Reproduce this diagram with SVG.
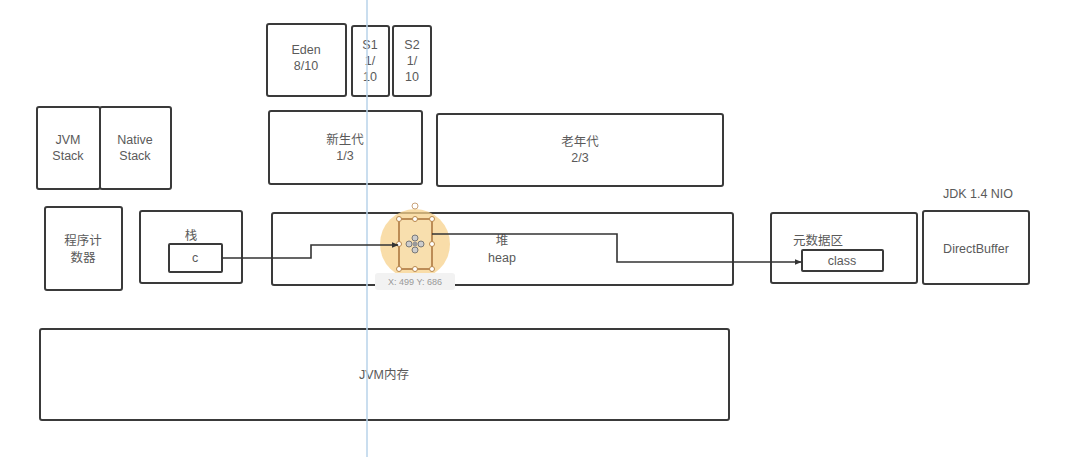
<svg xmlns="http://www.w3.org/2000/svg" width="1074" height="457" viewBox="0 0 1074 457">
<style>
.box{fill:#fff;stroke:#3a3a3a;stroke-width:2}
.t{font-family:"Liberation Sans","Noto Sans CJK SC",sans-serif;font-size:12.5px;fill:#5a5a5a;text-anchor:middle}
.conn{fill:none;stroke:#333;stroke-width:1.6}
.h{fill:#fff;stroke:#b8864a;stroke-width:1}
</style>
<defs>
<marker id="arr" viewBox="0 0 10 10" refX="9" refY="5" markerWidth="7" markerHeight="7" orient="auto" markerUnits="userSpaceOnUse">
<path d="M0,1 L10,5 L0,9 z" fill="#333"/>
</marker>
</defs>
<rect width="1074" height="457" fill="#fff"/>
<g id="eden"><rect class="box" x="267" y="24" width="79" height="72" rx="2"/><text class="t" x="306" y="54">Eden</text><text class="t" x="306" y="70">8/10</text></g>
<g id="s1"><rect class="box" x="352" y="26" width="37" height="70" rx="2"/><text class="t" x="370" y="49">S1</text><text class="t" x="370" y="65">1/</text><text class="t" x="370" y="81">10</text></g>
<g id="s2"><rect class="box" x="393" y="26" width="38" height="70" rx="2"/><text class="t" x="412" y="49">S2</text><text class="t" x="412" y="65">1/</text><text class="t" x="412" y="81">10</text></g>
<g id="jvmstack"><rect class="box" x="37" y="107" width="63" height="82" rx="2"/><text class="t" x="68" y="144">JVM</text><text class="t" x="68" y="160">Stack</text></g>
<g id="nativestack"><rect class="box" x="100" y="107" width="71" height="82" rx="2"/><text class="t" x="135" y="144">Native</text><text class="t" x="135" y="160">Stack</text></g>
<g id="young"><rect class="box" x="269" y="111" width="153" height="73" rx="2"/><text class="t" x="345" y="144">新生代</text><text class="t" x="345" y="160">1/3</text></g>
<g id="old"><rect class="box" x="437" y="114" width="286" height="72" rx="2"/><text class="t" x="580" y="146">老年代</text><text class="t" x="580" y="162">2/3</text></g>
<g id="pc"><rect class="box" x="45" y="207" width="77" height="83" rx="2"/><text class="t" x="83" y="245">程序计</text><text class="t" x="83" y="262">数器</text></g>
<g id="stack"><rect class="box" x="140" y="211" width="102" height="72" rx="2"/><text class="t" x="191" y="240">栈</text>
<rect class="box" x="169" y="244" width="53" height="28" rx="1"/><text class="t" x="195" y="262">c</text></g>
<g id="heap"><rect class="box" x="272" y="213" width="461" height="72" rx="2"/><text class="t" x="502" y="245">堆</text><text class="t" x="502" y="262">heap</text></g>
<g id="meta"><rect class="box" x="771" y="213" width="146" height="70" rx="2"/><text class="t" x="818" y="245">元数据区</text>
<rect class="box" x="802" y="250" width="81" height="21" rx="1"/><text class="t" x="842" y="265">class</text></g>
<g id="direct"><rect class="box" x="923" y="211" width="106" height="73" rx="2"/><text class="t" x="976" y="253">DirectBuffer</text></g>
<g id="nio"><text class="t" x="978" y="198">JDK 1.4 NIO</text></g>
<g id="jvmmem"><rect class="box" x="40" y="329" width="689" height="91" rx="2"/><text class="t" x="384" y="379">JVM内存</text></g>
<g id="guide"><line x1="367" y1="0" x2="367" y2="457" stroke="#b9d3ea" stroke-width="1.5"/></g>
<g id="selected">
<circle cx="415" cy="244" r="35" fill="#f7d28c" opacity="0.75"/>
<rect x="399" y="219" width="33" height="50" fill="#f8dfae" stroke="#a8713a" stroke-width="1.5"/>
<circle cx="415" cy="206" r="3" fill="#fff" stroke="#c9a37a"/>
<circle class="h" cx="399" cy="219" r="2.5"/><circle class="h" cx="415" cy="219" r="2.5"/><circle class="h" cx="432" cy="219" r="2.5"/>
<circle class="h" cx="399" cy="244" r="2.5"/><circle class="h" cx="432" cy="244" r="2.5"/>
<circle class="h" cx="399" cy="269" r="2.5"/><circle class="h" cx="415" cy="269" r="2.5"/><circle class="h" cx="432" cy="269" r="2.5"/>
<circle cx="415" cy="238" r="3" fill="#ccc" stroke="#777"/><circle cx="415" cy="250" r="3" fill="#ccc" stroke="#777"/>
<circle cx="409" cy="244" r="3" fill="#ccc" stroke="#777"/><circle cx="421" cy="244" r="3" fill="#ccc" stroke="#777"/>
<circle cx="415" cy="244" r="2.5" fill="#999"/>
<rect x="375" y="273" width="80" height="17" rx="3" fill="#f2f2f2"/>
<text x="415" y="285" font-family="Liberation Sans, sans-serif" font-size="9" fill="#999" text-anchor="middle">X: 499  Y: 686</text>
</g>
<g id="connectors">
<path class="conn" d="M222,258 H311 V245 H398" marker-end="url(#arr)"/>
<path class="conn" d="M432,234 H617 V262 H801" marker-end="url(#arr)"/>
</g>
</svg>
